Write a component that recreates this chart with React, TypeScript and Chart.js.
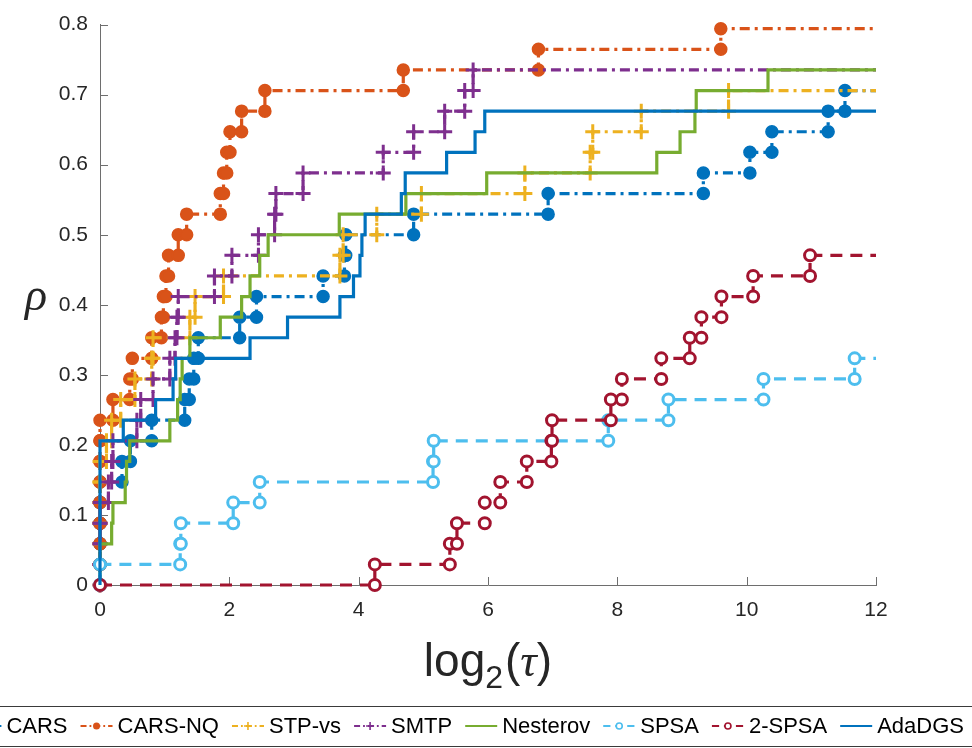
import React, { useEffect, useRef } from 'react';
import { Chart, registerables } from 'chart.js';

Chart.register(...registerables);

// ---------------- data ----------------
const N_PROBLEMS = 34;
const TAU_MAX = 12;
const X_TICKS = [0, 2, 4, 6, 8, 10, 12];
const Y_TICKS = [0, 0.1, 0.2, 0.3, 0.4, 0.5, 0.6, 0.7, 0.8];

// sorted log2 performance ratios of the solved problems, per solver
const CARS = [0, 0, 0, 0, 0, 0.34, 0.47, 0.8, 1.31, 1.38, 1.45, 1.52, 2.16, 2.42, 3.45, 3.78, 3.8, 4.85, 6.93, 9.33, 10.05, 10.39, 11.26, 11.52];
const CARS_NQ = [0, 0, 0, 0, 0, 0, 0, 0, 0.2, 0.46, 0.5, 0.8, 0.95, 0.98, 1.02, 1.06, 1.21, 1.34, 1.86, 1.91, 1.96, 2.01, 2.19, 2.55, 4.69, 6.78, 9.6];
const STP_VS = [0, 0, 0, 0, 0, 0, 0.1, 0.18, 0.32, 0.54, 0.8, 0.82, 1.39, 1.47, 1.91, 3.71, 3.76, 4.28, 4.97, 6.57, 7.58, 7.62, 8.37, 9.72];
const SMTP = [0, 0, 0, 0, 0.13, 0.18, 0.2, 0.57, 0.63, 0.82, 1.08, 1.16, 1.19, 1.21, 1.77, 2.04, 2.45, 2.7, 2.72, 3.14, 4.38, 4.85, 5.33, 5.64, 5.77];
const NESTEROV = [0, 0, 0.18, 0.2, 0.39, 0.41, 0.46, 1.08, 1.2, 1.24, 1.27, 1.39, 1.86, 2.19, 2.32, 2.47, 2.6, 3.7, 4.73, 5.98, 8.61, 8.97, 9.2, 9.22, 10.33];
const SPSA = [0, 1.24, 1.25, 2.06, 2.47, 5.15, 5.16, 7.86, 8.79, 10.26, 11.67];
const SPSA2 = [4.25, 5.41, 5.52, 5.95, 6.19, 6.6, 6.98, 6.99, 7.9, 8.07, 8.68, 9.12, 9.3, 9.61, 10.1, 10.98];
const ADADGS = [0, 0, 0, 0, 0, 0, 0, 0.36, 0.86, 1.13, 1.17, 2.32, 2.9, 3.71, 3.92, 4.02, 4.05, 4.1, 4.66, 4.72, 5.36, 5.8, 5.95];

const LABELS = ['CARS', 'CARS-NQ', 'STP-vs', 'SMTP', 'Nesterov', 'SPSA', '2-SPSA', 'AdaDGS'];
const VALUES = [CARS, CARS_NQ, STP_VS, SMTP, NESTEROV, SPSA, SPSA2, ADADGS];

// ---------------- styles ----------------
const COLORS = ['#0072BD', '#D95319', '#EDB120', '#7E2F8E', '#77AC30', '#4DBEEE', '#A2142F', '#0072BD'];
const DASH_DOT = [10, 5, 3, 5];
const DASHED = [12, 8];
const DASHES = [DASH_DOT, DASH_DOT, DASH_DOT, DASH_DOT, [], DASHED, DASHED, []];
const MARKERS = ['dot', 'dot', 'plus', 'plus', 'none', 'ring', 'ring', 'none'];

const FONT = '"Liberation Sans", Arial, Helvetica, sans-serif';
const AXIS_COLOR = '#6e6e6e';
const TEXT_COLOR = '#262626';
const LINE_W = 3.2;

function stairs(r: number[]) {
  const s = [...r].sort((a, b) => a - b);
  const pts: { x: number; y: number }[] = [];
  if (s.length === 0 || s[0] > 0) pts.push({ x: 0, y: 0 });
  s.forEach((v, i) => {
    pts.push({ x: v, y: i / N_PROBLEMS });
    pts.push({ x: v, y: (i + 1) / N_PROBLEMS });
  });
  pts.push({ x: TAU_MAX, y: s.length / N_PROBLEMS });
  return pts;
}

function markerProps(kind: string, color: string) {
  if (kind === 'dot') return { pointStyle: 'circle', r: 6, bg: color, bw: 1.5 };
  if (kind === 'ring') return { pointStyle: 'circle', r: 5.5, bg: '#ffffff', bw: 3 };
  if (kind === 'plus') return { pointStyle: 'cross', r: 7.5, bg: color, bw: 3 };
  return { pointStyle: 'circle', r: 0, bg: color, bw: 0 };
}

function drawMarker(ctx: CanvasRenderingContext2D, kind: string, x: number, y: number, color: string, scale: number) {
  ctx.save();
  ctx.setLineDash([]);
  ctx.strokeStyle = color;
  ctx.fillStyle = color;
  if (kind === 'dot') {
    ctx.beginPath();
    ctx.arc(x, y, 3.5 * scale, 0, Math.PI * 2);
    ctx.fill();
  } else if (kind === 'ring') {
    ctx.lineWidth = 1.6 * scale;
    ctx.fillStyle = '#fff';
    ctx.beginPath();
    ctx.arc(x, y, 3 * scale, 0, Math.PI * 2);
    ctx.fill();
    ctx.stroke();
  } else if (kind === 'plus') {
    ctx.lineWidth = 1.6 * scale;
    ctx.beginPath();
    ctx.moveTo(x - 4 * scale, y);
    ctx.lineTo(x + 4 * scale, y);
    ctx.moveTo(x, y - 4 * scale);
    ctx.lineTo(x, y + 4 * scale);
    ctx.stroke();
  }
  ctx.restore();
}

const overlay = {
  id: 'overlay',
  beforeDatasetsDraw(chart: any) {
    const { ctx, chartArea: a, scales } = chart;
    const xs = scales.x;
    const ys = scales.y;
    ctx.save();
    ctx.strokeStyle = AXIS_COLOR;
    ctx.lineWidth = 1;
    ctx.beginPath();
    X_TICKS.forEach((v) => {
      const p = Math.round(xs.getPixelForValue(v)) + 0.5;
      ctx.moveTo(p, a.bottom);
      ctx.lineTo(p, a.bottom - 8);
    });
    Y_TICKS.forEach((v) => {
      const p = Math.round(ys.getPixelForValue(v)) + 0.5;
      ctx.moveTo(a.left, p);
      ctx.lineTo(a.left + 8, p);
    });
    ctx.stroke();
    ctx.restore();
  },
  afterDraw(chart: any) {
    const { ctx, chartArea: a } = chart;
    ctx.save();
    ctx.fillStyle = TEXT_COLOR;
    ctx.textBaseline = 'alphabetic';

    // y label (unrotated rho)
    ctx.font = `italic 46px "Liberation Serif", "DejaVu Serif", serif`;
    ctx.textAlign = 'center';
    ctx.fillText('ρ', 36, 310);

    // x label: log_2(tau)
    const big = `46px ${FONT}`;
    const sub = `32px ${FONT}`;
    const ital = `italic 46px "Liberation Serif", "DejaVu Serif", serif`;
    ctx.textAlign = 'left';
    ctx.font = big;
    const wLog = ctx.measureText('log').width;
    const wOpen = ctx.measureText('(').width;
    const wClose = ctx.measureText(')').width;
    ctx.font = sub;
    const w2 = ctx.measureText('2').width;
    ctx.font = ital;
    const wTau = ctx.measureText('τ').width;
    const total = wLog + w2 + wOpen + wTau + wClose + 2;
    const cx = (a.left + a.right) / 2;
    let x = cx - total / 2;
    const base = 676;
    ctx.font = big;
    ctx.fillText('log', x, base);
    x += wLog;
    ctx.font = sub;
    ctx.fillText('2', x, base + 12);
    x += w2 + 2;
    ctx.font = big;
    ctx.fillText('(', x, base);
    x += wOpen;
    ctx.font = ital;
    ctx.fillText('τ', x, base);
    x += wTau;
    ctx.font = big;
    ctx.fillText(')', x, base);

    // legend
    const legFont = `22px ${FONT}`;
    ctx.font = legFont;
    const sampleW = 32;
    const gapS = 5;
    const gapT = 13;
    const widths = LABELS.map((l) => ctx.measureText(l).width);
    const totalW = widths.reduce((s, w) => s + sampleW + gapS + w + gapT, 0) - gapT;
    const rightEnd = 964;
    let lx = rightEnd - totalW;
    const yc = 726;
    // box
    ctx.strokeStyle = '#3a3a3a';
    ctx.lineWidth = 1;
    ctx.fillStyle = '#fff';
    ctx.beginPath();
    ctx.rect(lx - 8.5, 706.5, totalW + 12 + 8, 40);
    ctx.fill();
    ctx.stroke();
    LABELS.forEach((l, i) => {
      ctx.save();
      ctx.strokeStyle = COLORS[i];
      ctx.lineWidth = 2;
      ctx.setLineDash(DASHES[i].map((d) => d * 0.6));
      ctx.beginPath();
      ctx.moveTo(lx, yc);
      ctx.lineTo(lx + sampleW, yc);
      ctx.stroke();
      ctx.restore();
      drawMarker(ctx, MARKERS[i], lx + sampleW / 2, yc, COLORS[i], 1);
      lx += sampleW + gapS;
      ctx.fillStyle = '#000';
      ctx.font = legFont;
      ctx.textBaseline = 'middle';
      ctx.textAlign = 'left';
      ctx.fillText(l, lx, yc + 1);
      lx += widths[i] + gapT;
    });
    ctx.restore();
  },
};

export default function App() {
  const ref = useRef<HTMLCanvasElement>(null);
  useEffect(() => {
    const datasets = VALUES.map((vals, i) => {
      const pts = stairs(vals);
      const last = pts.length - 1;
      const m = markerProps(MARKERS[i], COLORS[i]);
      return {
        label: LABELS[i],
        data: pts,
        borderColor: COLORS[i],
        backgroundColor: COLORS[i],
        borderWidth: LINE_W,
        borderDash: DASHES[i],
        borderCapStyle: 'butt',
        borderJoinStyle: 'miter',
        tension: 0,
        fill: false,
        clip: false,
        order: VALUES.length - i,
        pointStyle: m.pointStyle,
        pointRadius: (c: any) => (c.dataIndex === last ? 0 : m.r),
        pointBackgroundColor: m.bg,
        pointBorderColor: COLORS[i],
        pointBorderWidth: m.bw,
      };
    });
    const chart = new Chart(ref.current as HTMLCanvasElement, {
      type: 'line',
      data: { datasets } as any,
      options: {
        animation: false,
        responsive: false,
        devicePixelRatio: 1,
        events: [],
        layout: { padding: { top: 13, right: 96, left: 0, bottom: 0 } },
        plugins: { legend: { display: false }, tooltip: { enabled: false } },
        scales: {
          x: {
            type: 'linear',
            min: 0,
            max: TAU_MAX,
            afterBuildTicks: (s: any) => {
              s.ticks = X_TICKS.map((v) => ({ value: v }));
            },
            afterFit: (s: any) => {
              s.height = 163;
            },
            grid: { display: false, drawTicks: false },
            border: { display: true, color: AXIS_COLOR, width: 1 },
            ticks: { font: { family: FONT, size: 21 }, color: TEXT_COLOR, padding: 13, maxRotation: 0 },
          },
          y: {
            type: 'linear',
            min: 0,
            max: 0.8,
            afterBuildTicks: (s: any) => {
              s.ticks = Y_TICKS.map((v) => ({ value: v }));
            },
            afterFit: (s: any) => {
              s.width = 100;
            },
            grid: { display: false, drawTicks: false },
            border: { display: true, color: AXIS_COLOR, width: 1 },
            ticks: {
              font: { family: FONT, size: 21 },
              color: TEXT_COLOR,
              padding: 12,
              callback: (v: any) => String(Math.round(Number(v) * 10) / 10),
            },
          },
        },
      } as any,
      plugins: [overlay],
    });
    return () => chart.destroy();
  }, []);
  return (
    <div style={{ position: 'absolute', left: 0, top: 0, width: 972, height: 748, background: '#fff' }}>
      <canvas ref={ref} width={972} height={748} style={{ display: 'block', width: 972, height: 748 }} />
    </div>
  );
}
